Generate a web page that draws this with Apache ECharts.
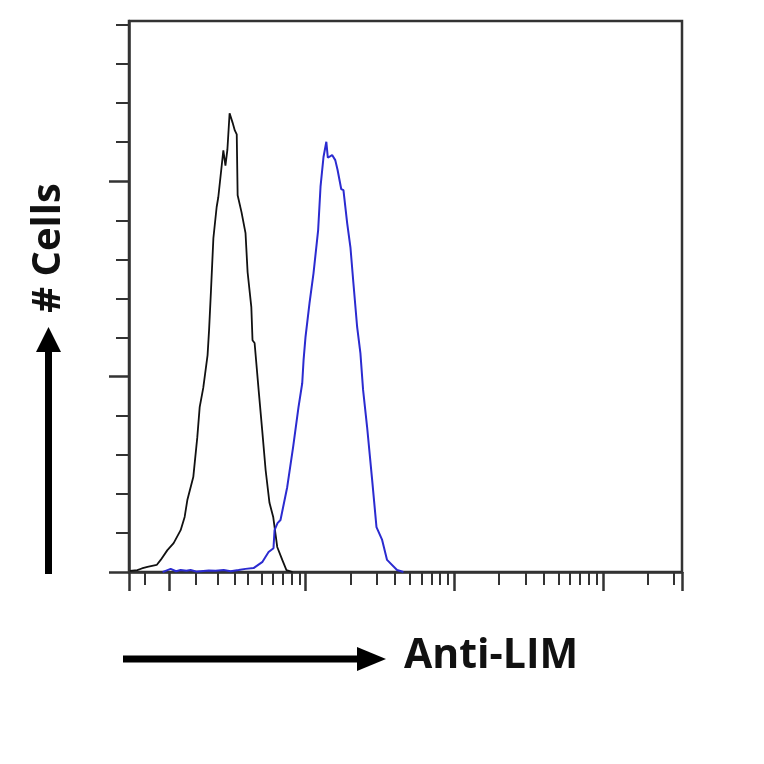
<!DOCTYPE html>
<html>
<head>
<meta charset="utf-8">
<script src="https://cdn.jsdelivr.net/npm/echarts@6/dist/echarts.min.js"></script>
<style>
  html, body { margin: 0; padding: 0; background: #fff; }
  #chart { width: 764px; height: 764px; }
</style>
</head>
<body>
<div id="chart"></div>
<script>
// x is log10 of fluorescence, y is cell count
var blackX = [-0.18, -0.13, -0.10, -0.062, 0.0, 0.027, 0.072, 0.114, 0.161, 0.188, 0.206, 0.246, 0.273, 0.289, 0.313, 0.342, 0.352, 0.365, 0.381, 0.403, 0.414, 0.448, 0.462, 0.475, 0.49, 0.51, 0.525, 0.538, 0.544, 0.570, 0.597, 0.611, 0.636, 0.644, 0.658, 0.685, 0.709, 0.732, 0.758, 0.783, 0.810, 0.844, 0.872, 0.913];
var blackY = [0.3, 0.5, 0.9, 1.3, 1.8, 3.1, 5.6, 7.4, 10.7, 14.1, 18.4, 24.3, 34.5, 42.2, 47.1, 55.5, 61.9, 72.1, 85.4, 93.4, 95.9, 107.9, 104, 108, 117.4, 115, 113, 112, 96.4, 92.1, 86.7, 76.7, 67.8, 59.3, 58.6, 46.6, 36.3, 26.1, 17.7, 14.1, 6.4, 3.1, 0.5, 0];

var blueX = [0.04, 0.06, 0.094, 0.13, 0.161, 0.2, 0.228, 0.27, 0.295, 0.35, 0.396, 0.45, 0.497, 0.55, 0.597, 0.651, 0.711, 0.752, 0.785, 0.792, 0.812, 0.832, 0.877, 0.917, 0.953, 0.978, 0.987, 1.0, 1.027, 1.054, 1.085, 1.101, 1.121, 1.14, 1.15, 1.179, 1.20, 1.215, 1.24, 1.255, 1.280, 1.302, 1.322, 1.347, 1.369, 1.387, 1.414, 1.448, 1.477, 1.515, 1.548, 1.615, 1.658];
var blueY = [0, 0.3, 0.8, 0.2, 0.5, 0.3, 0.5, 0.1, 0.2, 0.4, 0.3, 0.5, 0.2, 0.5, 0.8, 1.0, 2.6, 5.1, 6.1, 10.7, 12.5, 13.3, 21.7, 32.0, 42.2, 48.3, 54.2, 60.1, 68.8, 76.5, 87.5, 98.6, 106.2, 110.1, 106, 106.7, 105.4, 103, 98, 97.7, 89.3, 83.1, 73.9, 62.7, 56.0, 46.6, 37.1, 23.5, 11.5, 8.2, 3.1, 0.5, 0];

// axis range and tick positions
var xMin = -0.186, xMax = 3.53;
var xMajorTicks = [xMin, 0.087, 1, 2, 3, xMax];
var firstDecadeTicks = [-0.08, 0.265, 0.409, 0.527, 0.614, 0.705, 0.779, 0.849, 0.909, 0.96];
var yMax = 141;
var yMajorTicks = [0, 50, 100];
var yMinorTicks = [10, 20, 30, 40, 60, 70, 80, 90, 110, 120, 130, 140];

var xMinorTicks = firstDecadeTicks.slice();
[1, 2].forEach(function (d) {
    for (var k = 2; k <= 9; k++) xMinorTicks.push(d + Math.log10(k));
});
xMinorTicks.push(3 + Math.log10(2), 3 + Math.log10(3));

function zip(xs, ys) {
    return xs.map(function (x, i) { return [x, ys[i]]; });
}

var axisColor = '#333';

var option = {
    animation: false,
    grid: {
        left: 129,
        top: 21,
        right: 82,
        bottom: 192,
        show: true,
        borderColor: axisColor,
        borderWidth: 2.5
    },
    xAxis: [
        {
            type: 'value', min: xMin, max: xMax,
            axisLine: { show: true, onZero: false, lineStyle: { color: axisColor, width: 2.5 } },
            axisTick: { show: true, length: 19, customValues: xMajorTicks, lineStyle: { color: axisColor, width: 2.5 } },
            axisLabel: { show: false },
            splitLine: { show: false }
        },
        {
            type: 'value', min: xMin, max: xMax, position: 'bottom',
            axisLine: { show: false, onZero: false },
            axisTick: { show: true, length: 13, customValues: xMinorTicks, lineStyle: { color: axisColor, width: 2 } },
            axisLabel: { show: false },
            splitLine: { show: false }
        }
    ],
    yAxis: [
        {
            type: 'value', min: 0, max: yMax,
            axisLine: { show: true, onZero: false, lineStyle: { color: axisColor, width: 2.5 } },
            axisTick: { show: true, length: 20, customValues: yMajorTicks, lineStyle: { color: axisColor, width: 2.5 } },
            axisLabel: { show: false },
            splitLine: { show: false }
        },
        {
            type: 'value', min: 0, max: yMax, position: 'left',
            axisLine: { show: false, onZero: false },
            axisTick: { show: true, length: 13, customValues: yMinorTicks, lineStyle: { color: axisColor, width: 2 } },
            axisLabel: { show: false },
            splitLine: { show: false }
        }
    ],
    series: [
        {
            name: 'control',
            type: 'line',
            data: zip(blackX, blackY),
            showSymbol: false,
            lineStyle: { color: '#111', width: 1.8 },
            z: 3
        },
        {
            name: 'Anti-LIM',
            type: 'line',
            data: zip(blueX, blueY),
            showSymbol: false,
            lineStyle: { color: '#2b2bd0', width: 2 },
            z: 4
        }
    ],
    graphic: [
        // vertical arrow
        { type: 'line', shape: { x1: 48.5, y1: 574, x2: 48.5, y2: 348 }, style: { stroke: '#000', lineWidth: 7 } },
        { type: 'polygon', shape: { points: [[36, 352], [61, 352], [48.5, 327]] }, style: { fill: '#000' } },
        {
            type: 'text', x: 49, y: 248, rotation: Math.PI / 2,
            style: { text: '# Cells', font: 'bold 40px "Open Sans"', fill: '#111', textAlign: 'center', textVerticalAlign: 'middle' }
        },
        // horizontal arrow
        { type: 'line', shape: { x1: 123, y1: 659, x2: 362, y2: 659 }, style: { stroke: '#000', lineWidth: 7 } },
        { type: 'polygon', shape: { points: [[357, 647], [357, 671], [386, 659]] }, style: { fill: '#000' } },
        {
            type: 'text', x: 404, y: 656,
            style: { text: 'Anti-LIM', font: 'bold 41px "Open Sans"', fill: '#111', textAlign: 'left', textVerticalAlign: 'middle' }
        }
    ]
};

var chart = echarts.init(document.getElementById('chart'));
chart.setOption(option);
</script>
</body>
</html>
